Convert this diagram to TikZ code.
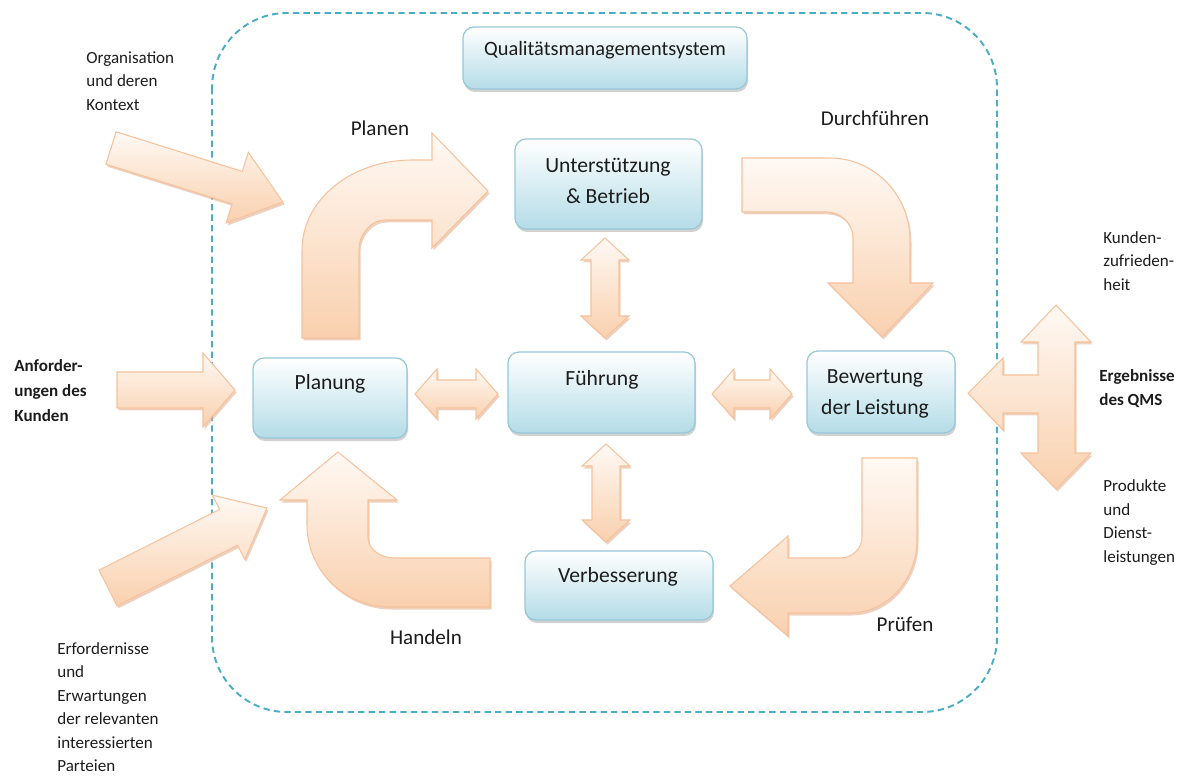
\documentclass[tikz,border=0pt]{standalone}
\usepackage{fontspec}
\setmainfont{Carlito}
\usetikzlibrary{calc,shadows}
\definecolor{peachtop}{RGB}{255,249,244}
\definecolor{peachbot}{RGB}{249,208,174}
\definecolor{peachline}{RGB}{246,194,156}
\definecolor{peachshadow}{RGB}{222,170,135}
\definecolor{boxbot}{RGB}{180,220,231}
\definecolor{boxline}{RGB}{150,200,216}
\definecolor{dashblue}{RGB}{75,172,198}
\definecolor{txt}{RGB}{28,28,28}
\newcommand\upx{0.02cm}
% straight fat arrow: tail, tip, half shaft, half head, head length (px)
\newcommand\fatarrow[5]{%
  \coordinate (fa-h) at ($(#2)!#5*\upx!(#1)$);
  \path[peach] ($(#1)!#3*\upx!90:(#2)$) -- ($(fa-h)!#3*\upx!90:(#2)$) -- ($(fa-h)!#4*\upx!90:(#2)$) -- (#2)
     -- ($(fa-h)!#4*\upx!-90:(#2)$) -- ($(fa-h)!#3*\upx!-90:(#2)$) -- ($(#1)!#3*\upx!-90:(#2)$) -- cycle;}
% double fat arrow: tip A, tip B, half shaft, half head, head length (px)
\newcommand\dblarrow[5]{%
  \coordinate (da-a) at ($(#1)!#5*\upx!(#2)$);
  \coordinate (da-b) at ($(#2)!#5*\upx!(#1)$);
  \path[peach] (#1) -- ($(da-a)!#4*\upx!90:(#2)$) -- ($(da-a)!#3*\upx!90:(#2)$) -- ($(da-b)!#3*\upx!-90:(#1)$)
     -- ($(da-b)!#4*\upx!-90:(#1)$) -- (#2) -- ($(da-b)!#4*\upx!90:(#1)$) -- ($(da-b)!#3*\upx!90:(#1)$)
     -- ($(da-a)!#3*\upx!-90:(#2)$) -- ($(da-a)!#4*\upx!-90:(#2)$) -- cycle;}
\begin{document}
\begin{tikzpicture}[x=0.02cm,y=-0.02cm,
  peach/.style={draw=peachline, line width=0.6pt, top color=peachtop, bottom color=peachbot,
    drop shadow={shadow xshift=0.03cm, shadow yshift=-0.05cm, fill=peachshadow, opacity=0.55}},
  box/.style={draw=boxline, line width=0.7pt, rounded corners=0.22cm, top color=white, bottom color=boxbot,
    inner sep=0pt, drop shadow={shadow xshift=0.02cm, shadow yshift=-0.06cm, fill=black!40, opacity=0.45}},
  boxtext/.style={font=\fontsize{12.3}{17.3}\selectfont, align=center, inner sep=0pt, text=txt},
  lab/.style={font=\fontsize{12}{14}\selectfont, inner sep=0pt, text=txt},
  sidetext/.style={font=\fontsize{9.7}{13.5}\selectfont, align=left, anchor=west, inner sep=0pt, text=txt}]
\useasboundingbox (0,0) rectangle (1182,776);

% system border
\draw[dashblue, line width=1.1pt, dash pattern=on 3.6pt off 2.4pt, rounded corners=1.5cm] (212,13) rectangle (997,712);

% boxes
\node[box, minimum width=284*\upx, minimum height=62*\upx] (qms) at (605,58) {};
\node[boxtext, font=\fontsize{11.6}{14}\selectfont] (qmsT) at (605,50) {Qualitätsmanagementsystem};
\node[box, minimum width=187*\upx, minimum height=90*\upx] (unt) at (608.5,184) {};
\node[boxtext] (untT) at (608,181) {Unterstützung\\\& Betrieb};
\node[box, minimum width=154*\upx, minimum height=80*\upx] (plan) at (330,398) {};
\node[boxtext] (planT) at (330,384) {Planung};
\node[box, minimum width=187*\upx, minimum height=81*\upx] (fuehr) at (601.5,392.5) {};
\node[boxtext] (fuehrT) at (602,380) {Führung};
\node[box, minimum width=148*\upx, minimum height=82*\upx] (bew) at (881,392) {};
\node[boxtext] (bewT) at (875,394) {Bewertung\\der Leistung};
\node[box, minimum width=188*\upx, minimum height=69*\upx] (verb) at (619,585.5) {};
\node[boxtext] (verbT) at (618,577) {Verbesserung};

% input arrows
\coordinate (in1t) at (111,148); \coordinate (in1p) at (283,202);
\fatarrow{in1t}{in1p}{17}{37}{48}
\coordinate (in2t) at (117,390); \coordinate (in2p) at (235,390);
\fatarrow{in2t}{in2p}{18}{37}{32}
\coordinate (in3t) at (108,588); \coordinate (in3p) at (267,508);
\fatarrow{in3t}{in3p}{20}{36}{43}

% double arrows between boxes
\coordinate (v1a) at (605,238); \coordinate (v1b) at (605,338);
\dblarrow{v1a}{v1b}{14}{24}{22}
\coordinate (v2a) at (606,444); \coordinate (v2b) at (606,542);
\dblarrow{v2a}{v2b}{14}{24}{22}
\coordinate (h1a) at (415,394); \coordinate (h1b) at (498,394);
\dblarrow{h1a}{h1b}{14}{25}{22}
\coordinate (h2a) at (712,394); \coordinate (h2b) at (792,394);
\dblarrow{h2a}{h2b}{14}{25}{22}

% bent arrows (PDCA cycle)
\path[peach] (302,338) -- (302,250) .. controls (302,200) and (351,160) .. (412,160) -- (432,160) -- (432,133)
  -- (488,191) -- (432,248) -- (432,220) -- (385,220) .. controls (371,220) and (359,234) .. (359,250) -- (359,338) -- cycle;
\path[peach] (742,158) -- (830,158) .. controls (874,158) and (910,195) .. (910,240) -- (910,283) -- (933,283)
  -- (882,337) -- (828,283) -- (853,283) -- (853,238) .. controls (853,224) and (841,212) .. (827,212) -- (742,212) -- cycle;
\path[peach] (490,558) -- (395,558) .. controls (380,558) and (368,549) .. (368,537) -- (368,500) -- (397,500)
  -- (338,452) -- (280,500) -- (307,500) -- (307,525) .. controls (307,570) and (344,607) .. (390,607) -- (490,607) -- cycle;
\path[peach] (862,458) -- (917,458) -- (917,540) .. controls (917,580) and (887,613) .. (850,613) -- (788,613) -- (788,636)
  -- (730,586) -- (788,536) -- (788,558) -- (840,558) .. controls (852,558) and (862,549) .. (862,537) -- cycle;

% output arrow (three heads)
\path[peach] (968,393) -- (1003,358) -- (1003,375) -- (1038,375) -- (1038,342) -- (1021,342) -- (1056,305)
  -- (1091,342) -- (1075,342) -- (1075,453) -- (1091,453) -- (1056,489) -- (1021,453) -- (1038,453)
  -- (1038,413) -- (1003,413) -- (1003,430) -- cycle;

% cycle labels
\node[lab] (lplanen) at (380,128) {Planen};
\node[lab] (ldurch) at (875,118) {Durchführen};
\node[lab] (lhandeln) at (426,637) {Handeln};
\node[lab] (lpruefen) at (905,624) {Prüfen};

% side texts
\node[sidetext] (orga) at (86,81) {Organisation\\und deren\\Kontext};
\node[sidetext, font=\fontsize{9.7}{14.2}\selectfont\bfseries] (anf) at (14,391) {Anforder-\\ungen des\\Kunden};
\node[sidetext, font=\fontsize{9.7}{13.4}\selectfont] (erf) at (57,707) {Erfordernisse\\und\\Erwartungen\\der relevanten\\interessierten\\Parteien};
\node[sidetext] (kz) at (1103,261) {Kunden-\\zufrieden-\\heit};
\node[sidetext, font=\fontsize{9.7}{13.2}\selectfont\bfseries] (erg) at (1099,388.5) {Ergebnisse\\des QMS};
\node[sidetext, font=\fontsize{9.7}{13.4}\selectfont] (prod) at (1103,522.5) {Produkte\\und\\Dienst-\\leistungen};
\end{tikzpicture}
\end{document}
